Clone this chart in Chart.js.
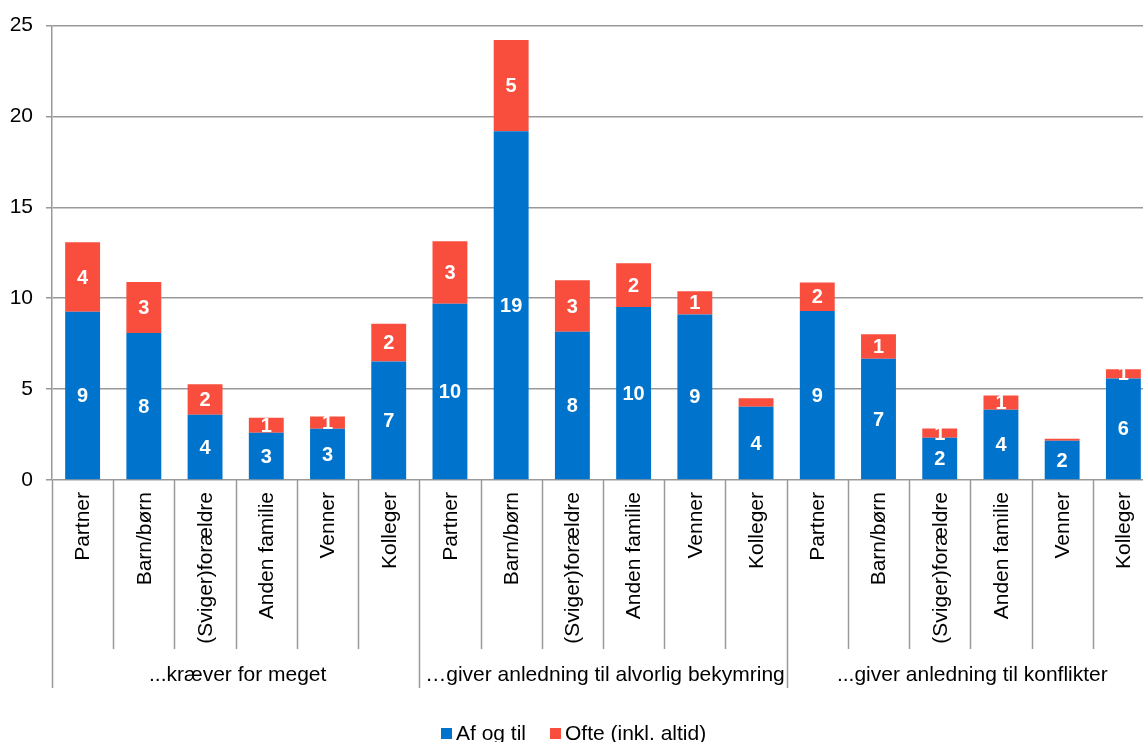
<!DOCTYPE html>
<html>
<head>
<meta charset="utf-8">
<script src="https://cdn.jsdelivr.net/npm/chart.js@4"></script>
<style>
  html, body { margin: 0; padding: 0; background: #fff; overflow: hidden; }
  #wrap { width: 1154px; height: 742px; position: relative; }
</style>
</head>
<body>
<div id="wrap"><canvas id="myChart"></canvas></div>
<script>
const categories = ['Partner', 'Barn/børn', '(Sviger)forældre', 'Anden familie', 'Venner', 'Kolleger'];
const groups = ['...kræver for meget', '…giver anledning til alvorlig bekymring', '...giver anledning til konflikter'];
const seriesNames = ['Af og til', 'Ofte (inkl. altid)'];
const afOgTil = [9.25, 8.09, 3.59, 2.6, 2.82, 6.52, 9.69, 19.19, 8.15, 9.52, 9.1, 4.03, 9.3, 6.67, 2.33, 3.86, 2.16, 5.59];
const ofte = [3.83, 2.81, 1.68, 0.82, 0.68, 2.07, 3.44, 5.02, 2.84, 2.4, 1.28, 0.47, 1.56, 1.35, 0.51, 0.79, 0.11, 0.51];
const yTicks = [0, 5, 10, 15, 20, 25];

const colors = ['#0074CC', '#F94E3D'];
const FONT = '"Liberation Sans", Arial, sans-serif';
const GRID = '#999999';

const labels = [];
groups.forEach(() => categories.forEach(c => labels.push(c)));

const multiAxis = {
    id: 'multiAxis',
    afterDraw(chart) {
        const ctx = chart.ctx;
        const area = chart.chartArea;
        const x = chart.scales.x;
        const n = labels.length;
        const step = (area.right - area.left) / n;
        ctx.save();

        // data labels
        ctx.font = 'bold 20px ' + FONT;
        ctx.fillStyle = '#fff';
        ctx.textAlign = 'center';
        ctx.textBaseline = 'middle';
        chart.data.datasets.forEach((ds, di) => {
            chart.getDatasetMeta(di).data.forEach((bar, i) => {
                const v = Math.round(ds.data[i]);
                if (v < 1) return;
                ctx.fillText(String(v), bar.x, (bar.y + bar.base) / 2 + 1);
            });
        });

        // separators
        ctx.strokeStyle = GRID;
        ctx.lineWidth = 1.5;
        for (let i = 0; i <= n; i++) {
            const px = Math.round(area.left + i * step) + 0.5;
            const long = i % categories.length === 0;
            ctx.beginPath();
            ctx.moveTo(px, area.bottom);
            ctx.lineTo(px, long ? area.bottom + 208 : area.bottom + 169);
            ctx.stroke();
        }

        // category labels
        ctx.fillStyle = '#000';
        ctx.font = '21px ' + FONT;
        ctx.textAlign = 'right';
        ctx.textBaseline = 'middle';
        labels.forEach((lab, i) => {
            const cx = x.getPixelForValue(i);
            ctx.save();
            ctx.translate(cx + 1, area.bottom + 12);
            ctx.rotate(-Math.PI / 2);
            ctx.fillText(lab, 0, 0);
            ctx.restore();
        });

        // group labels
        ctx.textAlign = 'center';
        groups.forEach((g, gi) => {
            const cx = area.left + (gi * categories.length + categories.length / 2) * step;
            ctx.fillText(g, cx + 2, area.bottom + 195);
        });

        // legend
        let lx = 441;
        const ly = 733;
        ctx.textAlign = 'left';
        seriesNames.forEach((name, i) => {
            ctx.fillStyle = colors[i];
            ctx.fillRect(lx, ly - 5, 11, 11);
            ctx.fillStyle = '#000';
            ctx.fillText(name, lx + 15, ly + 1);
            lx += 109;
        });
        ctx.restore();
    }
};

const ctx = document.getElementById('myChart').getContext('2d');
const myChart = new Chart(ctx, {
    type: 'bar',
    data: {
        labels: labels,
        datasets: [
            { label: seriesNames[0], data: afOgTil, backgroundColor: colors[0], barPercentage: 0.57, categoryPercentage: 1 },
            { label: seriesNames[1], data: ofte, backgroundColor: colors[1], barPercentage: 0.57, categoryPercentage: 1 }
        ]
    },
    options: {
        responsive: true,
        maintainAspectRatio: false,
        animation: false,
        layout: { padding: { top: 25, right: 0, bottom: 0, left: 0 } },
        plugins: {
            legend: { display: false },
            tooltip: { enabled: false }
        },
        scales: {
            x: {
                stacked: true,
                ticks: { display: false },
                grid: { display: false },
                border: { display: false },
                afterFit: s => { s.height = 262; }
            },
            y: {
                stacked: true,
                min: 0,
                max: 25,
                afterBuildTicks: s => { s.ticks = yTicks.map(v => ({ value: v })); },
                ticks: { color: '#000', font: { family: FONT, size: 21 }, padding: 13 },
                grid: { color: GRID, lineWidth: 1.5, tickLength: 6 },
                border: { color: GRID, width: 1.5 },
                afterFit: s => { s.width = 52; }
            }
        }
    },
    plugins: [multiAxis]
});
</script>
</body>
</html>
